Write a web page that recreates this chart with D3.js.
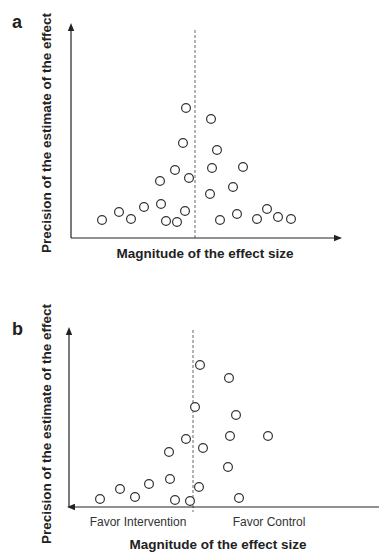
<!DOCTYPE html>
<html>
<head>
<meta charset="utf-8">
<script src="https://cdn.jsdelivr.net/npm/d3@7"></script>
<style>
  html, body { margin: 0; padding: 0; background: #fff; }
  svg { display: block; }
</style>
</head>
<body>
<svg id="chart" width="379" height="554"></svg>
<script>
// ---- Data (effect size relative to null line, precision) ----
const panelLabels = ["a", "b"];
const xTitle = "Magnitude of the effect size";
const yTitle = "Precision of the estimate of the effect";
const favorLabels = ["Favor Intervention", "Favor Control"];

// Panel a: symmetric funnel
const effectA = [-0.09, 0.16, -0.12, 0.22, -0.20, 0.17, 0.48, -0.35, -0.06, 0.38,
                 0.15, -0.34, -0.51, -0.76, -0.10, -0.93, -0.64, -0.29, -0.18, 0.25,
                 0.42, 0.62, 0.72, 0.83, 0.96];
const precisionA = [1.30, 1.19, 0.95, 0.88, 0.68, 0.70, 0.71, 0.57, 0.60, 0.51,
                    0.44, 0.34, 0.31, 0.26, 0.27, 0.18, 0.19, 0.17, 0.16, 0.18,
                    0.24, 0.19, 0.29, 0.21, 0.19];

// Panel b: asymmetric funnel
const effectB = [0.07, 0.36, 0.02, 0.43, -0.07, 0.37, 0.75, -0.24, 0.10, 0.35,
                 -0.23, -0.44, -0.73, 0.06, -0.93, -0.58, -0.18, -0.03, 0.46];
const precisionB = [1.42, 1.29, 1.00, 0.92, 0.68, 0.71, 0.71, 0.55, 0.59, 0.40,
                    0.28, 0.23, 0.18, 0.20, 0.08, 0.10, 0.07, 0.06, 0.09];

const xDomainA = [-1.24, 1.47], yDomainA = [0, 2.15];
const xDomainB = [-1.24, 1.86], yDomainB = [0, 1.80];

// ---- Drawing ----
const svg = d3.select("#chart");
const font = "'Liberation Sans', Arial, Helvetica, sans-serif";

function arrow(g, tipX, tipY, dir) {
  const L = 8, W = 3.2;
  let pts;
  if (dir === "up") pts = [[tipX, tipY], [tipX - W, tipY + L], [tipX + W, tipY + L]];
  else if (dir === "right") pts = [[tipX, tipY], [tipX - L, tipY - W], [tipX - L, tipY + W]];
  else pts = [[tipX, tipY], [tipX + L, tipY - W], [tipX + L, tipY + W]];
  g.append("path").attr("d", d3.line()(pts) + "Z").attr("fill", "#222");
}

function panel(opts) {
  const g = svg.append("g");
  const x = d3.scaleLinear().domain(opts.xDomain).range(opts.xRange);
  const y = d3.scaleLinear().domain(opts.yDomain).range(opts.yRange);
  const [x0, x1] = x.range();
  const [yb, yt] = y.range();

  // null line (dashed)
  g.append("line")
    .attr("x1", x(0)).attr("x2", x(0))
    .attr("y1", opts.dashTop).attr("y2", yb + opts.dashExtra)
    .attr("stroke", "#555").attr("stroke-width", 0.9)
    .attr("stroke-dasharray", "3,2");

  // axes
  const axisStroke = { stroke: "#222", w: 1.2 };
  g.append("line").attr("x1", x0).attr("x2", x0).attr("y1", yb).attr("y2", yt + 6)
    .attr("stroke", axisStroke.stroke).attr("stroke-width", axisStroke.w);
  arrow(g, x0, yt, "up");
  if (opts.xArrow === "right") {
    g.append("line").attr("x1", x0).attr("x2", x1 - 6).attr("y1", yb).attr("y2", yb)
      .attr("stroke", axisStroke.stroke).attr("stroke-width", axisStroke.w);
    arrow(g, x1, yb, "right");
  } else {
    g.append("line").attr("x1", x0 + 6).attr("x2", x1).attr("y1", yb).attr("y2", yb)
      .attr("stroke", axisStroke.stroke).attr("stroke-width", axisStroke.w);
    arrow(g, x0 - 2, yb, "left");
  }

  // points
  const pts = opts.effect.map((e, i) => ({ e, p: opts.precision[i] }));
  g.selectAll("circle").data(pts).enter().append("circle")
    .attr("cx", d => x(d.e)).attr("cy", d => y(d.p)).attr("r", 4.4)
    .attr("fill", "#fff").attr("stroke", "#333").attr("stroke-width", 1.2);

  // panel letter
  g.append("text").attr("x", 12).attr("y", opts.letterY)
    .attr("font-family", font).attr("font-weight", "bold").attr("font-size", 18)
    .attr("fill", "#222").text(opts.letter);

  // y title
  g.append("text")
    .attr("transform", `translate(51,${opts.yTitleY}) rotate(-90)`)
    .attr("text-anchor", "middle")
    .attr("font-family", font).attr("font-weight", "bold").attr("font-size", 13.5)
    .attr("fill", "#222").text(yTitle);

  // x title
  g.append("text").attr("x", opts.xTitleX).attr("y", opts.xTitleY)
    .attr("text-anchor", "middle")
    .attr("font-family", font).attr("font-weight", "bold").attr("font-size", 13.5)
    .attr("fill", "#222").text(xTitle);

  if (opts.favor) {
    g.append("text").attr("x", x(-0.55)).attr("y", yb + 19)
      .attr("text-anchor", "middle").attr("font-family", font).attr("font-size", 12)
      .attr("fill", "#333").text(favorLabels[0]);
    g.append("text").attr("x", x(0.76)).attr("y", yb + 19)
      .attr("text-anchor", "middle").attr("font-family", font).attr("font-size", 12)
      .attr("fill", "#333").text(favorLabels[1]);
  }
}

panel({
  letter: panelLabels[0], letterY: 28,
  effect: effectA, precision: precisionA,
  xDomain: xDomainA, yDomain: yDomainA,
  xRange: [71, 342], yRange: [238, 23],
  dashTop: 30, dashExtra: 0, xArrow: "right",
  yTitleY: 133, xTitleX: 205, xTitleY: 258, favor: false
});

panel({
  letter: panelLabels[1], letterY: 335,
  effect: effectB, precision: precisionB,
  xDomain: xDomainB, yDomain: yDomainB,
  xRange: [69, 379], yRange: [507, 327],
  dashTop: 330, dashExtra: 5, xArrow: "left",
  yTitleY: 424, xTitleX: 218, xTitleY: 549, favor: true
});
</script>
</body>
</html>
